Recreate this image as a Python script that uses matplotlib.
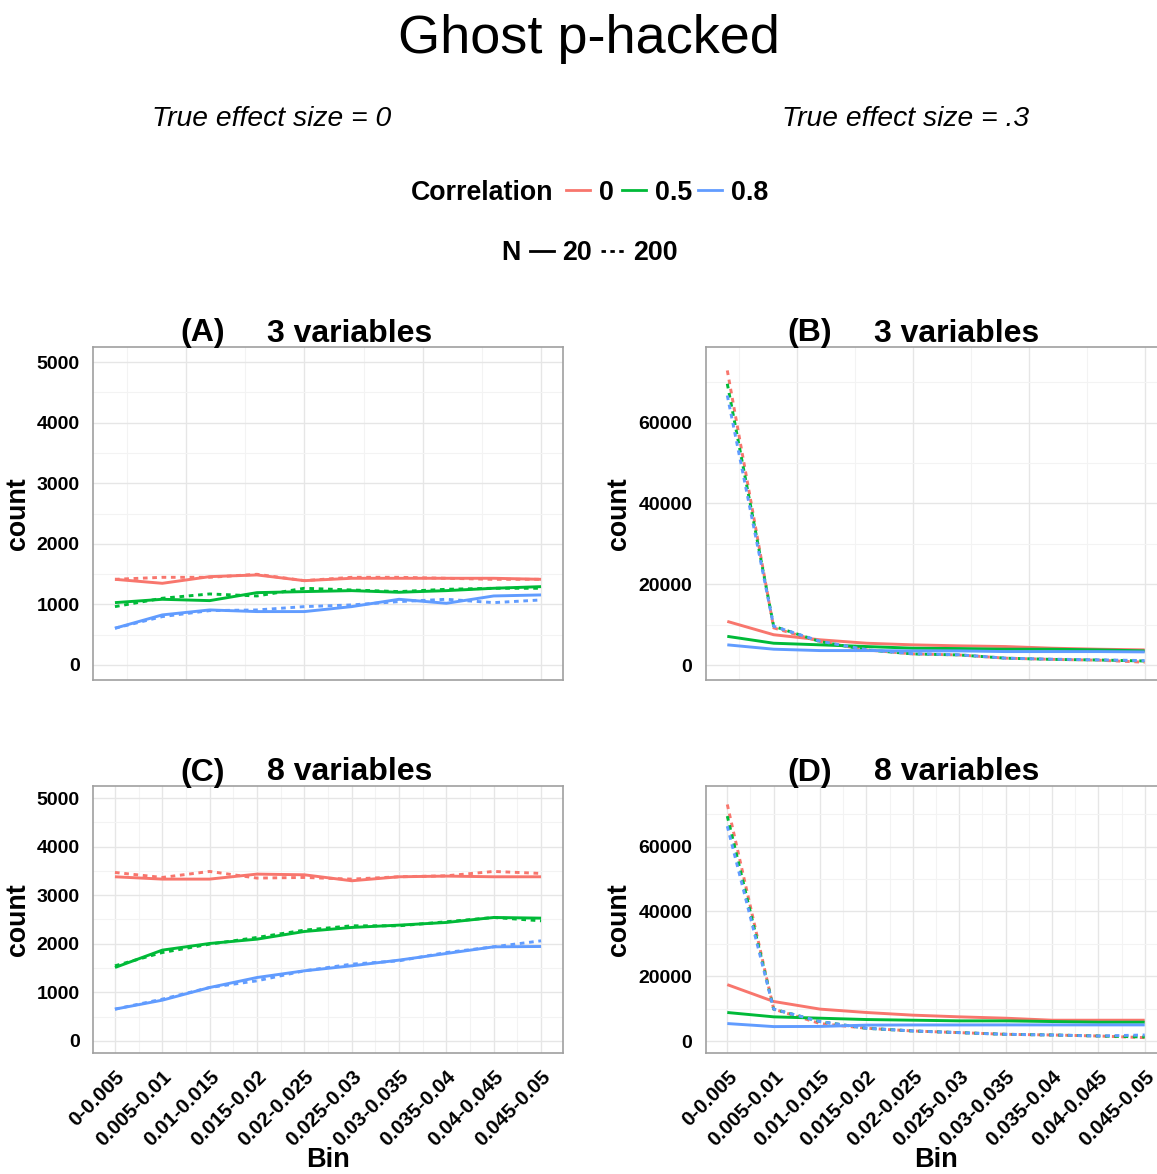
import matplotlib
matplotlib.use('Agg')
import matplotlib.pyplot as plt
import matplotlib.transforms as mtrans
from matplotlib.lines import Line2D

plt.rcParams['font.family'] = ['Liberation Sans', 'DejaVu Sans']

bins = ['0-0.005', '0.005-0.01', '0.01-0.015', '0.015-0.02', '0.02-0.025',
        '0.025-0.03', '0.03-0.035', '0.035-0.04', '0.04-0.045', '0.045-0.05']
corr_levels = ['0', '0.5', '0.8']
n_levels = ['20', '200']
colors = ['#F8766D', '#00BA38', '#619CFF']

# (A) true effect 0, 3 variables
a_r0_n20 = [1413, 1347, 1457, 1485, 1391, 1430, 1430, 1430, 1430, 1413]
a_r0_n200 = [1413, 1446, 1446, 1496, 1391, 1446, 1446, 1430, 1413, 1413]
a_r5_n20 = [1028, 1083, 1061, 1193, 1210, 1226, 1199, 1226, 1265, 1292]
a_r5_n200 = [962, 1100, 1171, 1138, 1265, 1237, 1210, 1248, 1265, 1265]
a_r8_n20 = [605, 825, 907, 880, 880, 962, 1083, 1017, 1138, 1155]
a_r8_n200 = [605, 797, 896, 907, 962, 990, 1045, 1083, 1028, 1072]

# (B) true effect .3, 3 variables
b_r0_n20 = [10800, 7500, 6250, 5400, 5000, 4750, 4580, 4170, 3920, 3750]
b_r0_n200 = [72900, 9200, 5800, 3750, 2750, 2500, 1700, 1400, 1200, 700]
b_r5_n20 = [7100, 5400, 5000, 4580, 4170, 4080, 3920, 3920, 3750, 3500]
b_r5_n200 = [69600, 9600, 5800, 3750, 2750, 2500, 1700, 1400, 1250, 1000]
b_r8_n20 = [5000, 3920, 3580, 3580, 3500, 3500, 3330, 3330, 3330, 3250]
b_r8_n200 = [66700, 9600, 5900, 3800, 2800, 2550, 1700, 1450, 1300, 1100]

# (C) true effect 0, 8 variables
c_r0_n20 = [3380, 3332, 3332, 3435, 3421, 3298, 3380, 3394, 3380, 3380]
c_r0_n200 = [3469, 3366, 3490, 3353, 3366, 3332, 3380, 3400, 3490, 3449]
c_r5_n20 = [1511, 1869, 2006, 2095, 2253, 2336, 2384, 2439, 2542, 2528]
c_r5_n200 = [1546, 1820, 1992, 2130, 2281, 2370, 2370, 2453, 2542, 2473]
c_r8_n20 = [653, 838, 1099, 1305, 1443, 1546, 1663, 1800, 1937, 1944]
c_r8_n200 = [653, 859, 1099, 1237, 1443, 1580, 1649, 1820, 1937, 2061]

# (D) true effect .3, 8 variables
d_r0_n20 = [17400, 12200, 9840, 8800, 7980, 7460, 7040, 6420, 6420, 6420]
d_r0_n200 = [73000, 9840, 5390, 3940, 3100, 2590, 2070, 1860, 1550, 1040]
d_r5_n20 = [8800, 7460, 7040, 6630, 6420, 6220, 6220, 6010, 5800, 5800]
d_r5_n200 = [69400, 9840, 6000, 3940, 3100, 2590, 2070, 1860, 1550, 1240]
d_r8_n20 = [5390, 4450, 4500, 4900, 4950, 4950, 4970, 4970, 4970, 4970]
d_r8_n200 = [66300, 9840, 6000, 3940, 3100, 2590, 2070, 1860, 1550, 1860]

W, H = 1157, 1174
fig = plt.figure(figsize=(W / 100, H / 100), dpi=100)


def box(left, top, right, bottom):
    return [left / W, 1 - bottom / H, (right - left) / W, (bottom - top) / H]


def draw_panel(rect, solid, dashed, ylim, ymaj, ymin, bottom_row, ylab_x):
    ax = fig.add_axes(rect)
    x = list(range(len(bins)))
    for k in range(3):
        ax.plot(x, solid[k], color=colors[k], lw=2.1, solid_capstyle='butt', zorder=3)
        ax.plot(x, dashed[k], color=colors[k], lw=2.1, dashes=(1.6, 1.6), zorder=3)
    ax.set_xlim(-0.47, 9.47)
    ax.set_ylim(*ylim)
    ax.set_yticks(ymaj)
    ax.set_yticks(ymin, minor=True)
    if bottom_row:
        ax.set_xticks(x)
        ax.set_xticks([i + 0.5 for i in range(9)], minor=True)
        ax.set_xticklabels(bins, rotation=45, ha='right', va='top',
                           rotation_mode='anchor', fontsize=14.8, fontweight='bold')
        off = mtrans.ScaledTranslation(0.10, 0, fig.dpi_scale_trans)
        for lab in ax.get_xticklabels():
            lab.set_transform(lab.get_transform() + off)
        ax.set_xlabel('Bin', fontsize=19.5, fontweight='bold')
        ax.xaxis.set_label_coords(0.5, -0.352)
    else:
        ax.set_xticks([1.5, 4, 6.5, 9])
        ax.set_xticks([0.25, 2.75, 5.25, 7.75], minor=True)
        ax.set_xticklabels([])
    ax.tick_params(which='both', length=0)
    ax.tick_params(axis='x', pad=10)
    ax.tick_params(axis='y', pad=9.5, labelsize=14)
    for lab in ax.get_yticklabels():
        lab.set_fontweight('bold')
    ax.grid(which='major', color='#E6E6E6', lw=1.0, zorder=0)
    ax.grid(which='minor', color='#F3F3F3', lw=0.8, zorder=0)
    ax.set_axisbelow(True)
    for s in ax.spines.values():
        s.set_color('#A0A0A0')
        s.set_linewidth(1.2)
    ax.set_ylabel('count', fontsize=19.3, fontweight='bold')
    ax.yaxis.set_label_coords(ylab_x, 0.5)
    return ax


small_lim = (-250, 5250)
small_maj = list(range(0, 5001, 1000))
small_min = list(range(500, 5000, 1000))
big_lim = (-3700, 78700)
big_maj = [0, 20000, 40000, 60000]
big_min = [10000, 30000, 50000, 70000]

draw_panel(box(92.7, 347, 563.3, 680),
           [a_r0_n20, a_r5_n20, a_r8_n20], [a_r0_n200, a_r5_n200, a_r8_n200],
           small_lim, small_maj, small_min, False, -0.131)
draw_panel(box(705.5, 347, 1166.5, 680),
           [b_r0_n20, b_r5_n20, b_r8_n20], [b_r0_n200, b_r5_n200, b_r8_n200],
           big_lim, big_maj, big_min, False, -0.159)
draw_panel(box(92.7, 786, 563.3, 1053),
           [c_r0_n20, c_r5_n20, c_r8_n20], [c_r0_n200, c_r5_n200, c_r8_n200],
           small_lim, small_maj, small_min, True, -0.131)
draw_panel(box(705.5, 786, 1166.5, 1053),
           [d_r0_n20, d_r5_n20, d_r8_n20], [d_r0_n200, d_r5_n200, d_r8_n200],
           big_lim, big_maj, big_min, True, -0.159)


def ftext(x, y, s, **kw):
    fig.text(x / W, 1 - y / H, s, **kw)


# titles
ftext(589, 52.5, 'Ghost p-hacked', fontsize=39, ha='center', va='baseline')
ftext(271.5, 126.5, 'True effect size = 0', fontsize=20.3, style='italic',
      ha='center', va='baseline')
ftext(906, 126.5, 'True effect size = .3', fontsize=20.3, style='italic',
      ha='center', va='baseline')

# panel titles
for px, py, tag, lab in [(180, 341.5, '(A)', '3 variables'), (787, 341.5, '(B)', '3 variables'),
                         (180, 780.5, '(C)', '8 variables'), (787, 780.5, '(D)', '8 variables')]:
    ftext(px, py, tag, fontsize=23, fontweight='bold', ha='left', va='baseline')
    ftext(px + 87, py, lab, fontsize=23, fontweight='bold', ha='left', va='baseline')

# legends
lg = dict(fontsize=19.3, fontweight='bold', ha='left', va='baseline')
ftext(411, 199.5, 'Correlation', **lg)
for (x0, tx), c, lab in zip([(566, 599), (622, 655), (698, 731)], colors, corr_levels):
    fig.add_artist(Line2D([x0 / W, (x0 + 24) / W], [1 - 190 / H] * 2, color=c, lw=2.0))
    ftext(tx, 199.5, lab, **lg)

ftext(501, 260.5, 'N', **lg)
fig.add_artist(Line2D([530 / W, 554 / W], [1 - 251 / H] * 2, color='black', lw=2.0))
ftext(562, 260.5, n_levels[0], **lg)
fig.add_artist(Line2D([601 / W, 627 / W], [1 - 251 / H] * 2, color='black', lw=2.0,
                      dashes=(1.6, 1.6)))
ftext(633, 260.5, n_levels[1], **lg)

fig.savefig('out.png', dpi=100)
